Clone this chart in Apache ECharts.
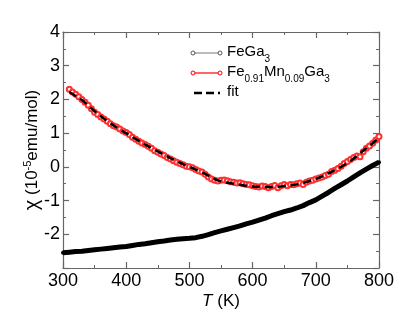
<!DOCTYPE html>
<html><head><meta charset="utf-8">
<script src="https://cdn.jsdelivr.net/npm/echarts@6/dist/echarts.min.js"></script>
<style>html,body{margin:0;padding:0;background:#fff}#c{width:409px;height:316px}</style>
</head><body><div id="c"></div>
<script>
// FeGa3 (black)
const feT = [300,310,320,330,340,350,360,370,380,390,400,410,420,430,440,450,460,470,480,490,500,510,520,530,540,550,560,570,580,590,600,610,620,630,640,650,660,670,680,690,700,710,720,730,740,750,760,770,780,790,800];
const feChi = [-2.55,-2.53,-2.51,-2.50,-2.48,-2.46,-2.44,-2.42,-2.40,-2.38,-2.36,-2.33,-2.30,-2.28,-2.25,-2.22,-2.20,-2.17,-2.15,-2.13,-2.12,-2.10,-2.06,-2.01,-1.95,-1.90,-1.85,-1.80,-1.75,-1.69,-1.64,-1.58,-1.52,-1.45,-1.39,-1.33,-1.28,-1.22,-1.15,-1.06,-0.98,-0.87,-0.76,-0.64,-0.53,-0.42,-0.30,-0.18,-0.07,0.04,0.14];
// Fe0.91Mn0.09Ga3 (red)
const mnT = [310,315,320,325,330,335,340,345,350,355,360,365,370,375,380,385,390,395,400,405,410,415,420,425,430,435,440,445,450,455,460,465,470,475,480,485,490,495,500,505,510,515,520,525,530,535,540,545,550,555,560,565,570,575,580,585,590,595,600,605,610,615,620,625,630,635,640,645,650,655,660,665,670,675,680,685,690,695,700,705,710,715,720,725,730,735,740,745,750,755,760,765,770,775,780,785,790,795,800];
const mnChi = [2.30,2.22,2.15,2.08,2.00,1.92,1.83,1.72,1.62,1.55,1.48,1.42,1.35,1.28,1.22,1.18,1.12,1.06,1.02,0.96,0.88,0.82,0.76,0.71,0.66,0.61,0.55,0.48,0.43,0.38,0.34,0.28,0.23,0.18,0.14,0.10,0.06,0.02,0.00,-0.03,-0.08,-0.12,-0.15,-0.22,-0.30,-0.36,-0.40,-0.42,-0.40,-0.39,-0.41,-0.44,-0.46,-0.48,-0.47,-0.50,-0.52,-0.53,-0.56,-0.58,-0.60,-0.57,-0.58,-0.62,-0.58,-0.55,-0.62,-0.56,-0.52,-0.56,-0.52,-0.53,-0.50,-0.48,-0.52,-0.46,-0.42,-0.40,-0.36,-0.33,-0.30,-0.26,-0.22,-0.14,-0.10,-0.05,0.02,0.10,0.16,0.22,0.28,0.32,0.30,0.45,0.55,0.62,0.70,0.80,0.90];
// fit (dashed)
const fitT = [310,320,330,340,350,360,370,380,390,400,410,420,430,440,450,460,470,480,490,500,510,520,530,540,550,560,570,580,590,600,610,620,630,640,650,660,670,680,690,700,710,720,730,740,750,760,770,780,790,800];
const fitChi = [2.22,2.10,1.98,1.82,1.65,1.50,1.36,1.23,1.11,1.00,0.88,0.77,0.66,0.56,0.46,0.36,0.26,0.17,0.08,0.00,-0.08,-0.16,-0.26,-0.36,-0.43,-0.47,-0.50,-0.53,-0.56,-0.58,-0.59,-0.60,-0.60,-0.59,-0.57,-0.55,-0.52,-0.48,-0.42,-0.36,-0.28,-0.19,-0.10,0.00,0.12,0.25,0.40,0.55,0.70,0.86];
const xTicks = [300,400,500,600,700,800];
const yTicks = [-2,-1,0,1,2,3,4];

const zip = (a,b)=>a.map((v,i)=>[v,b[i]]);
const FONT = 'Liberation Sans, Arial, sans-serif';
const axisCol = '#666';
const chart = echarts.init(document.getElementById('c'), null, {renderer:'canvas'});
const common = {
  axisLine:{show:true,onZero:false,lineStyle:{color:axisCol,width:1.2}},
  axisTick:{show:true,inside:true,length:6,lineStyle:{color:axisCol,width:1.2}},
  minorTick:{show:true,splitNumber:2,length:3,lineStyle:{color:axisCol,width:1}},
  splitLine:{show:false}
};
const legRich = {
  n:{fontSize:15,fontFamily:FONT,fill:'#000',verticalAlign:'bottom',padding:[0,0,5,0]},
  s:{fontSize:10,fontFamily:FONT,fill:'#000',verticalAlign:'bottom'}
};
chart.setOption({
  animation:false,
  grid:{left:63,right:30,top:32,bottom:48},
  xAxis:[
    Object.assign({type:'value',min:300,max:800,interval:100,position:'bottom',
      name:'{i|T} (K)',nameLocation:'middle',nameGap:25,nameMoveOverlap:false,
      nameTextStyle:{fontFamily:FONT,fontSize:17,color:'#000',rich:{i:{fontStyle:'italic',fontFamily:FONT,fontSize:17,color:'#000'}}},
      axisLabel:{fontFamily:FONT,fontSize:18,color:'#000',margin:4,
        formatter:v=>xTicks.includes(v)?String(v):''}},common),
    Object.assign({type:'value',min:300,max:800,interval:100,position:'top',axisLabel:{show:false}},common)
  ],
  yAxis:[
    Object.assign({type:'value',min:-3,max:4,interval:1,position:'left',
      name:'{c|χ} (10{s|-5}emu/mol)',nameLocation:'middle',nameGap:21,nameRotate:90,nameMoveOverlap:false,
      nameTextStyle:{fontFamily:FONT,fontSize:17,color:'#000',rich:{
        c:{fontFamily:FONT,fontSize:20,color:'#000'},
        s:{fontFamily:FONT,fontSize:11,color:'#000',verticalAlign:'top',padding:[0,0,8,0]}}},
      axisLabel:{fontFamily:FONT,fontSize:18,color:'#000',margin:3,
        formatter:v=>yTicks.includes(v)?String(v):''}},common),
    Object.assign({type:'value',min:-3,max:4,interval:1,position:'right',axisLabel:{show:false}},common)
  ],
  series:[
    {type:'line',name:'FeGa3',data:zip(feT,feChi),symbol:'circle',symbolSize:4,showSymbol:true,
      lineStyle:{color:'#000',width:5},itemStyle:{color:'#000'},z:2},
    {type:'line',name:'Mn',data:zip(mnT,mnChi),symbol:'emptyCircle',symbolSize:5,
      lineStyle:{color:'#ff0000',width:1.2},itemStyle:{color:'#ff3030',borderWidth:1},z:3},
    {type:'line',name:'fit',data:zip(fitT,fitChi),symbol:'none',smooth:true,
      lineStyle:{color:'#000',width:2.5,type:[8,5]},z:4}
  ],
  graphic:[
    {type:'line',shape:{x1:193,y1:53,x2:220,y2:53},style:{stroke:'#777',lineWidth:1}},
    {type:'circle',shape:{cx:193,cy:53,r:2},style:{fill:'#fff',stroke:'#555',lineWidth:1}},
    {type:'circle',shape:{cx:220,cy:53,r:2},style:{fill:'#fff',stroke:'#555',lineWidth:1}},
    {type:'text',left:227,top:44,style:{text:'{n|FeGa}{s|3}',rich:legRich}},
    {type:'line',shape:{x1:193,y1:73,x2:220,y2:73},style:{stroke:'#ff0000',lineWidth:1.2}},
    {type:'circle',shape:{cx:193,cy:73,r:2},style:{fill:'#fff',stroke:'#ff0000',lineWidth:1}},
    {type:'circle',shape:{cx:220,cy:73,r:2},style:{fill:'#fff',stroke:'#ff0000',lineWidth:1}},
    {type:'text',left:227,top:64,style:{text:'{n|Fe}{s|0.91}{n|Mn}{s|0.09}{n|Ga}{s|3}',rich:legRich}},
    {type:'line',shape:{x1:194,y1:93,x2:220,y2:93},style:{stroke:'#000',lineWidth:2.5,lineDash:[8,4]}},
    {type:'text',left:227,top:84,style:{text:'{n|fit}',rich:legRich}}
  ]
});
</script></body></html>
